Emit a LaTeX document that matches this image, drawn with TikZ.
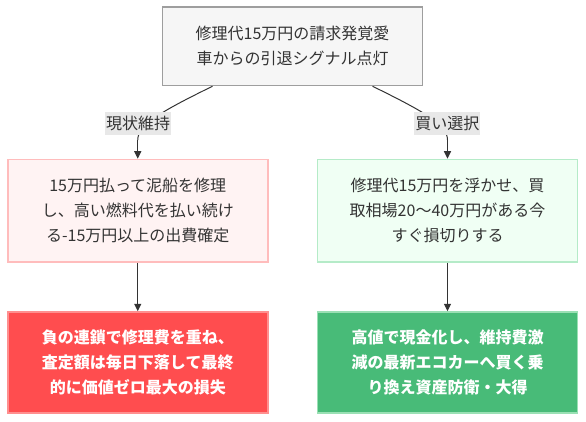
\documentclass[tikz,border=0pt]{standalone}
\usepackage{fontspec}
\setmainfont{Noto Sans CJK JP}
\usetikzlibrary{arrows.meta}

\definecolor{textGray}{HTML}{333333}
\definecolor{lineGray}{HTML}{333333}
\definecolor{topFill}{HTML}{F6F6F6}
\definecolor{topLine}{HTML}{9E9E9E}
\definecolor{keepFill}{HTML}{FFF3F3}
\definecolor{keepLine}{HTML}{FFBCBC}
\definecolor{sellFill}{HTML}{F0FFF4}
\definecolor{sellLine}{HTML}{B5EBC8}
\definecolor{lossFill}{HTML}{FF4D4F}
\definecolor{lossLine}{HTML}{FF8F8F}
\definecolor{gainFill}{HTML}{48BB78}
\definecolor{gainLine}{HTML}{9AE0B4}
\definecolor{labelFill}{HTML}{E8E8E8}

\begin{document}
\begin{tikzpicture}[x=1pt,y=-1pt,%%
  boxStyle/.style={draw,line width=1.5pt,minimum width=260pt,align=center,%%
    font=\fontsize{16pt}{25pt}\selectfont},%%
  lineStyle/.style={-,line width=1pt,draw=lineGray},%%
  arrowStyle/.style={-{Triangle[length=7.5pt,width=7pt]},line width=1pt,draw=lineGray},%%
  labelStyle/.style={fill=labelFill,text=textGray,inner xsep=1pt,inner ysep=0pt,%%
    minimum height=23pt,font=\fontsize{16pt}{20pt}\selectfont}%%
]
%%
\useasboundingbox (0,0) rectangle (586,422);
%%
\coordinate (Start) at (292.5,46.25);
\coordinate (Keep) at (137.75,210.75);
\coordinate (Sell) at (447.5,210.75);
\coordinate (Loss) at (137.75,362.5);
\coordinate (Gain) at (447.5,362.5);
%%
%% Boxes of the decision tree.
\node (StartBox) at (Start) [boxStyle,fill=topFill,draw=topLine,text=textGray,minimum height=78.5pt]
  {修理代15万円の請求発覚愛\\車からの引退シグナル点灯};
\node (KeepBox) at (Keep) [boxStyle,fill=keepFill,draw=keepLine,text=textGray,minimum height=102.5pt]
  {15万円払って泥船を修理\\し、高い燃料代を払い続け\\る-15万円以上の出費確定};
\node (SellBox) at (Sell) [boxStyle,fill=sellFill,draw=sellLine,text=textGray,minimum height=102.5pt]
  {修理代15万円を浮かせ、買\\取相場20〜40万円がある今\\すぐ損切りする};
\node (LossBox) at (Loss) [boxStyle,fill=lossFill,draw=lossLine,text=white,minimum height=101pt,font=\fontsize{16pt}{25pt}\selectfont\bfseries]
  {負の連鎖で修理費を重ね、\\査定額は毎日下落して最終\\的に価値ゼロ最大の損失};
\node (GainBox) at (Gain) [boxStyle,fill=gainFill,draw=gainLine,text=white,minimum height=101pt,font=\fontsize{16pt}{25pt}\selectfont\bfseries]
  {高値で現金化し、維持費激\\減の最新エコカーへ買く乗\\り換え資産防衛・大得};
%%
%% Lines between the boxes.
\coordinate (OutKeep) at ([xshift=-80pt]StartBox.south);
\coordinate (OutSell) at ([xshift=80pt]StartBox.south);
\coordinate (BendKeep) at (137.75,140);
\coordinate (BendSell) at (447.5,140);
\draw[lineStyle] (OutKeep) .. controls (160,112) and (137.75,125) .. (BendKeep);
\draw[arrowStyle] (BendKeep) -- (KeepBox.north);
\draw[lineStyle] (OutSell) .. controls (425,112) and (447.5,125) .. (BendSell);
\draw[arrowStyle] (BendSell) -- (SellBox.north);
\draw[arrowStyle] (KeepBox) -- (LossBox);
\draw[arrowStyle] (SellBox) -- (GainBox);
%%
%% Edge labels.
\node (KeepLabel) at (138.2,123.5) [labelStyle] {現状維持};
\node (SellLabel) at (447.3,123.5) [labelStyle] {買い選択};
\end{tikzpicture}
\end{document}
